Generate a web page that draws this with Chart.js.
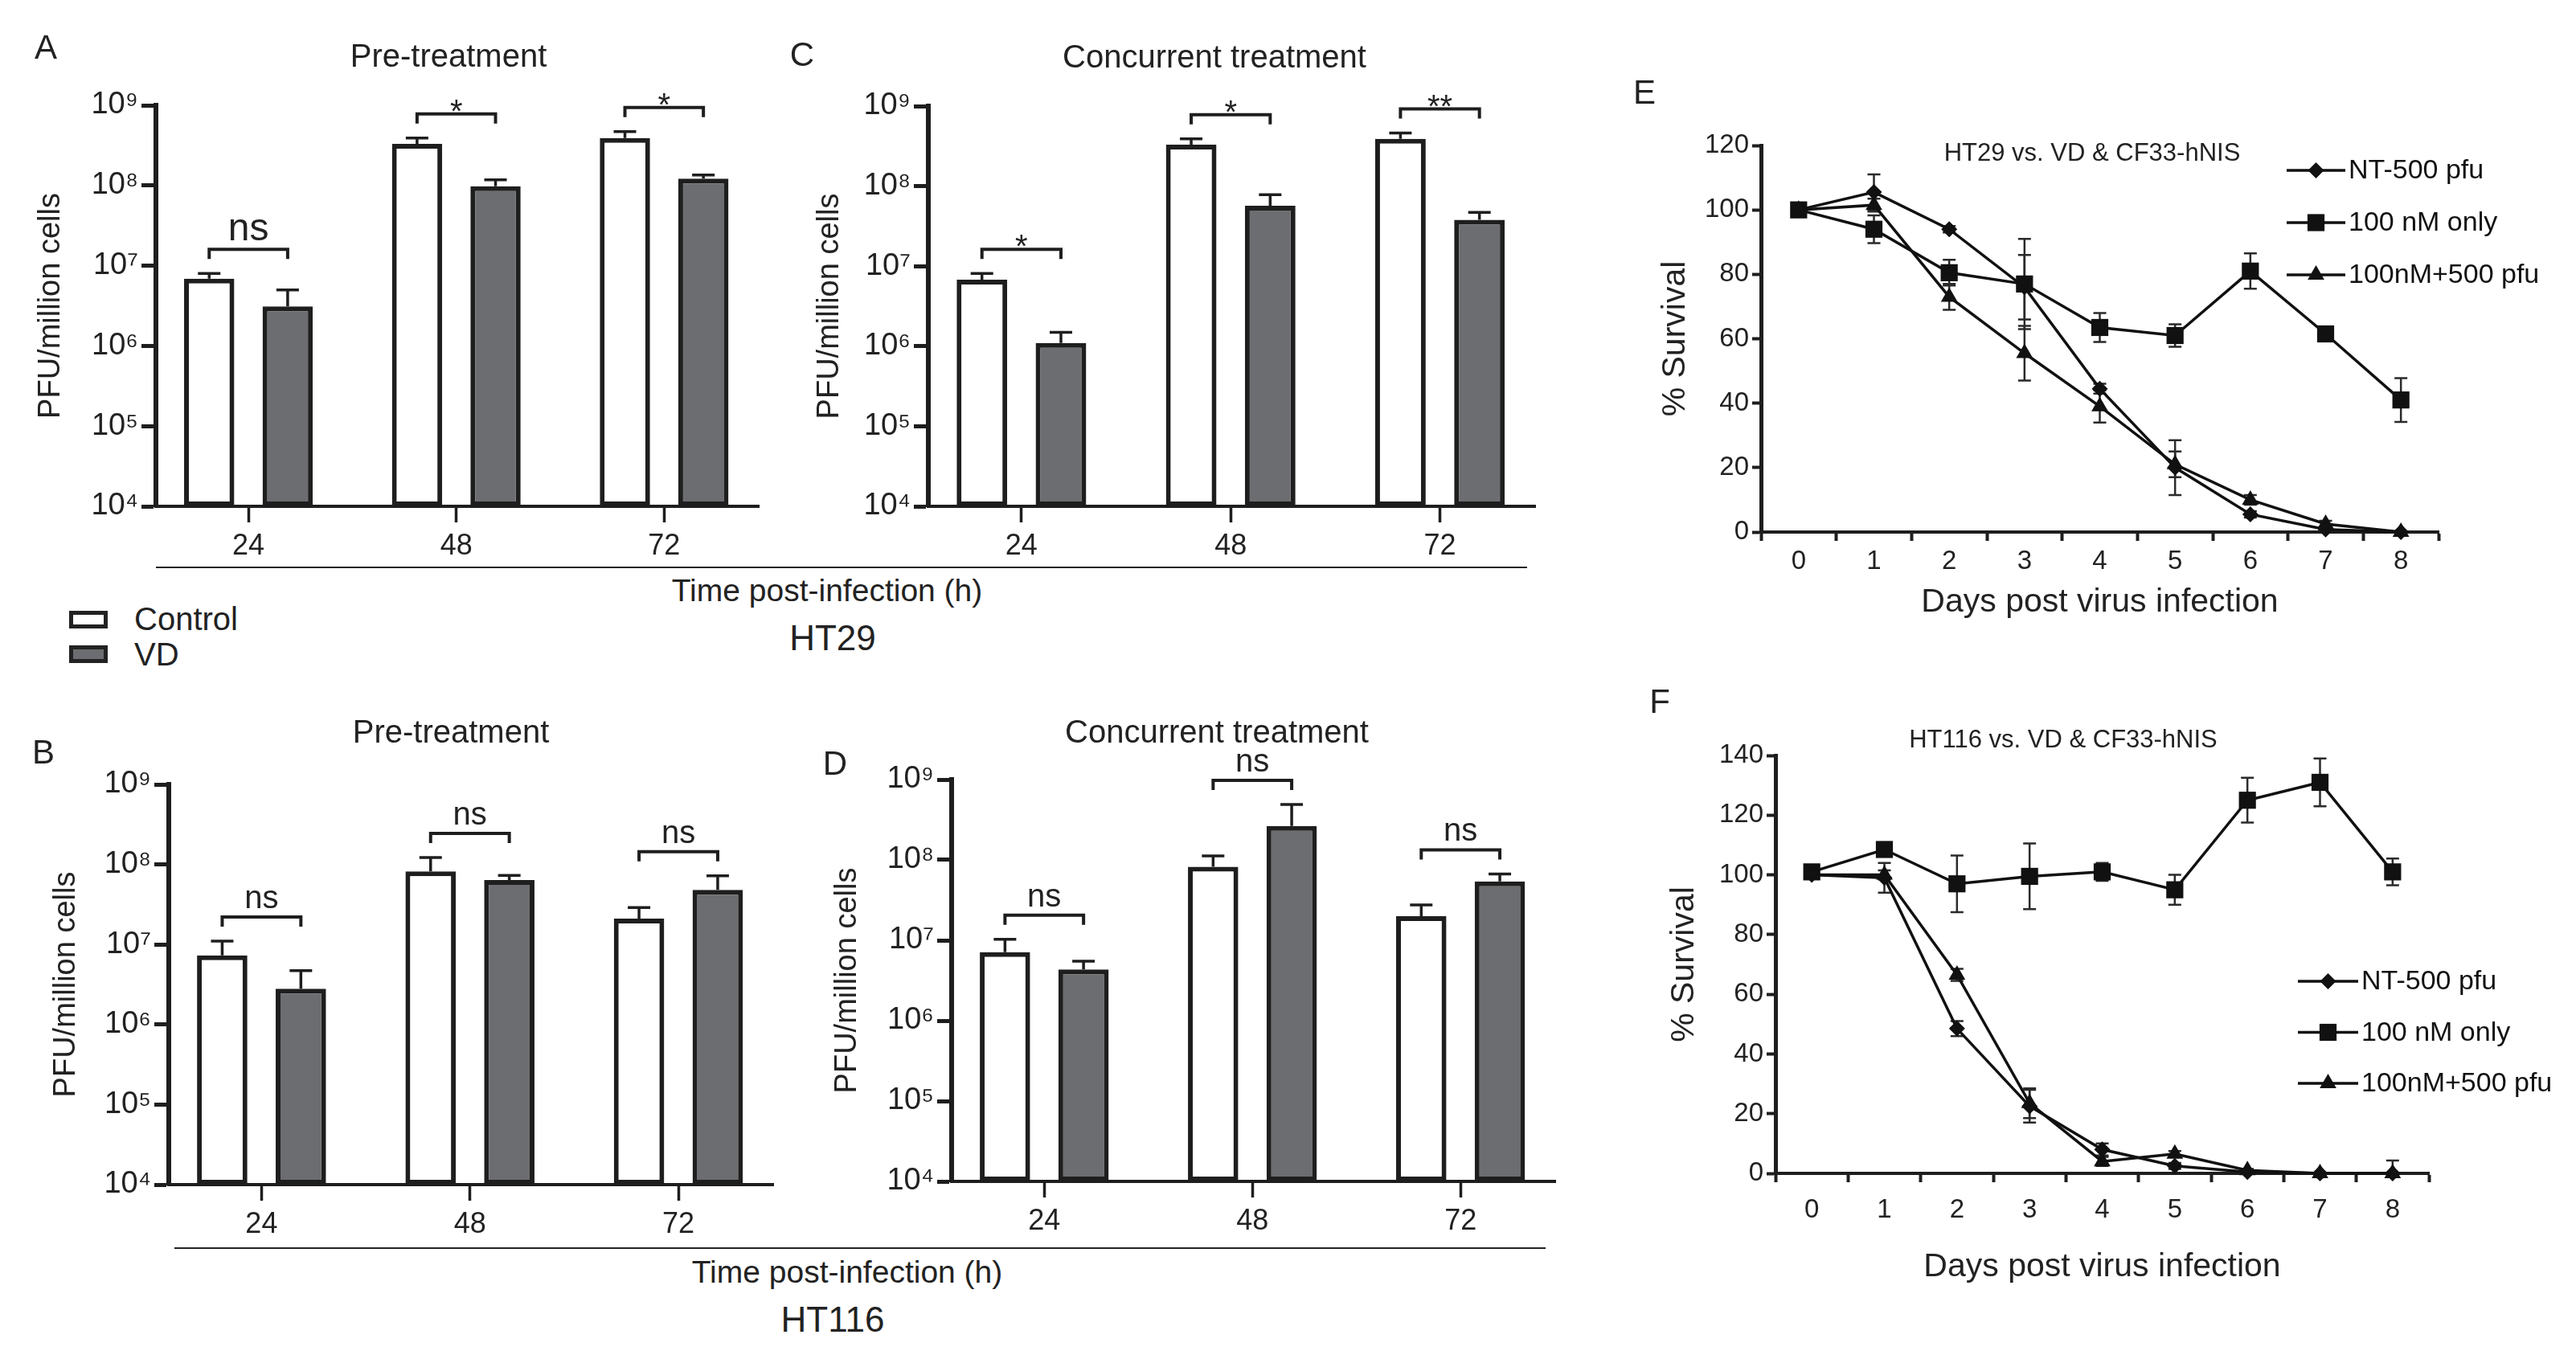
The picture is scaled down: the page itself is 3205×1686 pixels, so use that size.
<!DOCTYPE html>
<html>
<head>
<meta charset="utf-8">
<script src="https://cdn.jsdelivr.net/npm/chart.js@4.4.1/dist/chart.umd.min.js"></script>
<style>
  html, body { margin: 0; padding: 0; background: #fff; }
  #fig { position: relative; width: 3205px; height: 1686px; overflow: hidden;
         font-family: "Liberation Sans", Arial, sans-serif; color: #222; }
  .t { position: absolute; white-space: nowrap; transform: translate(-50%, -50%); line-height: 1; }
  .tl { position: absolute; white-space: nowrap; transform: translate(0, -50%); line-height: 1; }
  .rule { position: absolute; height: 2px; background: #222; }
  .box { position: absolute; width: 48px; height: 22px; border: 5px solid #222; box-sizing: border-box; }
  canvas { position: absolute; }
</style>
</head>
<body>
<div id="fig"></div>
<script>
// ---- data: virus titres (PFU / million cells) ----
const hours = ['24', '48', '72'];
const logTicks = [1e4, 1e5, 1e6, 1e7, 1e8, 1e9];

// A: HT29 pre-treatment
const ctrlA = [6.9e6, 3.3e8, 3.9e8];
const ctrlAErr = [1.1e6, 6e7, 8e7];
const vdA = [3.1e6, 9.8e7, 1.22e8];
const vdAErr = [1.9e6, 2e7, 1.3e7];
const sigA = ['ns', '*', '*'];

// C: HT29 concurrent treatment
const ctrlC = [6.8e6, 3.3e8, 3.9e8];
const ctrlCErr = [1.3e6, 6e7, 7e7];
const vdC = [1.1e6, 5.7e7, 3.8e7];
const vdCErr = [3.9e5, 2.1e7, 9e6];
const sigC = ['*', '*', '**'];

// B: HT116 pre-treatment
const ctrlB = [7.3e6, 8.2e7, 2.1e7];
const ctrlBErr = [3.7e6, 4e7, 8e6];
const vdB = [2.8e6, 6.4e7, 4.8e7];
const vdBErr = [1.9e6, 9e6, 2.4e7];
const sigB = ['ns', 'ns', 'ns'];

// D: HT116 concurrent treatment
const ctrlD = [7.1e6, 8.2e7, 2.0e7];
const ctrlDErr = [3.2e6, 3e7, 7.6e6];
const vdD = [4.35e6, 2.65e8, 5.4e7];
const vdDErr = [1.15e6, 2.25e8, 1.3e7];
const sigD = ['ns', 'ns', 'ns'];

// ---- data: survival (%) ----
const days = [0, 1, 2, 3, 4, 5, 6, 7, 8];
const seriesNames = ['NT-500 pfu', '100 nM only', '100nM+500 pfu'];
const yTicksE = [0, 20, 40, 60, 80, 100, 120];
const yTicksF = [0, 20, 40, 60, 80, 100, 120, 140];

const ntE = [100, 105.5, 94, 76, 44.5, 20, 5.5, 0.8, 0];
const ntEErr = [0, 5.5, 1, 10, 1.5, 8.5, 1, 0.5, 0];
const onlyE = [100, 94, 80.5, 77, 63.5, 61, 81, 61.5, 41];
const onlyEErr = [1, 4.3, 4, 14, 4.5, 3.5, 5.5, 1.5, 6.8];
const comboE = [100, 101.5, 73, 55.5, 39, 21, 10, 2.5, 0];
const comboEErr = [0, 2, 4, 8.5, 5, 4, 1.5, 1, 0];

const ntF = [100, 99, 48.5, 22.5, 8, 2.5, 0.5, 0, 0];
const ntFErr = [0, 5, 2.5, 5.5, 2, 1, 0.5, 0, 0];
const onlyF = [101, 108.5, 97, 99.5, 101, 95, 125, 131, 101];
const onlyFErr = [2, 2, 9.5, 11, 3, 5, 7.5, 8, 4.5];
const comboF = [100, 100, 66.5, 23.5, 4, 6.5, 1, 0, 0];
const comboFErr = [0, 1.5, 2, 5, 1.5, 1, 0.5, 0, 4.3];

// ---- setup ----
Chart.defaults.font.family = '"Liberation Sans", Arial, sans-serif';
Chart.defaults.color = '#222';
const INK = '#1e1e1e';
const fig = document.getElementById('fig');
const SUP = '⁰¹²³⁴⁵⁶⁷⁸⁹';

function makeCanvas(area, yW, xH, padTop, padRight) {
    const c = document.createElement('canvas');
    const w = yW + area.r - area.l + padRight;
    const h = padTop + area.b - area.t + xH;
    c.width = w;
    c.height = h;
    c.style.left = (area.l - yW) + 'px';
    c.style.top = (area.t - padTop) + 'px';
    c.style.width = w + 'px';
    c.style.height = h + 'px';
    fig.appendChild(c);
    return c;
}

function drawMarker(ctx, style, x, y, r) {
    ctx.beginPath();
    if (style === 'rectRot') {
        ctx.moveTo(x - r, y); ctx.lineTo(x, y - r); ctx.lineTo(x + r, y); ctx.lineTo(x, y + r);
    } else if (style === 'rect') {
        const s = r * Math.SQRT1_2;
        ctx.rect(x - s, y - s, 2 * s, 2 * s);
    } else {
        for (let k = 0; k < 3; k++) {
            const a = k * 2 * Math.PI / 3;
            ctx[k ? 'lineTo' : 'moveTo'](x + Math.sin(a) * r, y - Math.cos(a) * r);
        }
    }
    ctx.closePath();
    ctx.fill();
}

// error whiskers + significance brackets for the bar panels
const barExtras = {
    id: 'barExtras',
    afterDatasetsDraw(chart, args, opts) {
        const ctx = chart.ctx;
        const y = chart.scales.y;
        const sets = chart.data.datasets;
        ctx.save();
        ctx.strokeStyle = INK;
        ctx.lineWidth = 3.5;
        sets.forEach((ds, di) => {
            chart.getDatasetMeta(di).data.forEach((bar, i) => {
                const top = y.getPixelForValue(ds.data[i].y + ds.err[i]);
                ctx.beginPath();
                ctx.moveTo(bar.x, bar.y);
                ctx.lineTo(bar.x, top);
                ctx.moveTo(bar.x - 14, top);
                ctx.lineTo(bar.x + 14, top);
                ctx.stroke();
            });
        });
        const m0 = chart.getDatasetMeta(0), m1 = chart.getDatasetMeta(1);
        ctx.fillStyle = '#222';
        ctx.textAlign = 'center';
        opts.sig.forEach((s, i) => {
            const tops = sets.map(ds => y.getPixelForValue(ds.data[i].y + ds.err[i]));
            const by = Math.min(...tops) - 30;
            const x0 = m0.data[i].x, x1 = m1.data[i].x;
            ctx.lineWidth = 4;
            ctx.beginPath();
            ctx.moveTo(x0, by + 12);
            ctx.lineTo(x0, by);
            ctx.lineTo(x1, by);
            ctx.lineTo(x1, by + 12);
            ctx.stroke();
            ctx.textBaseline = 'alphabetic';
            if (s === 'ns') {
                ctx.font = opts.nsSize + 'px "Liberation Sans", Arial, sans-serif';
                ctx.fillText(s, (x0 + x1) / 2, by - 11);
            } else {
                ctx.font = '40px "Liberation Sans", Arial, sans-serif';
                ctx.fillText(s, (x0 + x1) / 2, by + 10);
            }
        });
        ctx.restore();
    }
};

function barChart(area, ctrl, ctrlErr, vd, vdErr, sig, yTitleX, nsSize) {
    const yW = 170, xH = 75, padTop = 90, padRight = 15;
    const lh = 38 * 1.2;
    const canvas = makeCanvas(area, yW, xH, padTop, padRight);
    const common = { borderColor: INK, borderWidth: 6, borderSkipped: false,
                     categoryPercentage: 0.755, barPercentage: 0.64 };
    new Chart(canvas, {
        type: 'bar',
        data: {
            datasets: [
                Object.assign({ label: 'Control', data: ctrl.map((v, i) => ({ x: i, y: v })),
                    err: ctrlErr, backgroundColor: '#ffffff' }, common),
                Object.assign({ label: 'VD', data: vd.map((v, i) => ({ x: i, y: v })),
                    err: vdErr, backgroundColor: '#6c6d70' }, common)
            ]
        },
        options: {
            responsive: false,
            animation: false,
            devicePixelRatio: 1,
            events: [],
            layout: { padding: { top: padTop, right: padRight, left: 0, bottom: 0 } },
            plugins: {
                legend: { display: false },
                tooltip: { enabled: false },
                barExtras: { sig: sig, nsSize: nsSize }
            },
            scales: {
                x: {
                    type: 'linear',
                    offset: false,
                    min: -0.445,
                    max: 2.455,
                    afterBuildTicks: s => { s.ticks = hours.map((h, i) => ({ value: i })); },
                    afterFit: s => { s.height = xH; },
                    grid: { drawOnChartArea: false, offset: false, tickLength: 20, tickWidth: 3.5, color: INK },
                    border: { display: true, width: 4, color: INK },
                    ticks: { callback: (v, i) => hours[i], font: { size: 36 }, padding: 8,
                             maxRotation: 0, autoSkip: false }
                },
                y: {
                    type: 'logarithmic',
                    min: 1e4,
                    max: 1e9,
                    afterBuildTicks: s => { s.ticks = logTicks.map(v => ({ value: v })); },
                    afterFit: s => { s.width = yW; },
                    grid: { drawOnChartArea: false, tickLength: 18, tickWidth: 5, color: INK },
                    border: { display: true, width: 6, color: INK },
                    ticks: { callback: v => '10' + SUP[Math.round(Math.log10(v))], font: { size: 38 }, padding: 4 },
                    title: { display: true, text: 'PFU/million cells', font: { size: 38 },
                             padding: { top: yTitleX - (area.l - yW) - lh / 2, bottom: 0 } }
                }
            }
        },
        plugins: [barExtras]
    });
}

// error bars under the survival curves
const lineErrors = {
    id: 'lineErrors',
    beforeDatasetsDraw(chart) {
        const { ctx, scales: { x, y } } = chart;
        ctx.save();
        ctx.strokeStyle = '#2a2a2a';
        ctx.lineWidth = 2.5;
        chart.data.datasets.forEach(ds => {
            ds.data.forEach((p, i) => {
                const e = ds.err[i];
                if (!e) return;
                const px = x.getPixelForValue(p.x);
                const lo = y.getPixelForValue(Math.max(p.y - e, 0));
                const hi = y.getPixelForValue(p.y + e);
                ctx.beginPath();
                ctx.moveTo(px, lo); ctx.lineTo(px, hi);
                ctx.moveTo(px - 8, hi); ctx.lineTo(px + 8, hi);
                if (p.y - e > 0) { ctx.moveTo(px - 8, lo); ctx.lineTo(px + 8, lo); }
                ctx.stroke();
            });
        });
        ctx.restore();
    }
};

const seriesLegend = {
    id: 'seriesLegend',
    afterDraw(chart, args, opts) {
        const { ctx, chartArea } = chart;
        const x0 = chartArea.right + opts.dx;
        ctx.save();
        ctx.fillStyle = '#111';
        ctx.strokeStyle = '#111';
        ctx.lineWidth = 3.5;
        ctx.font = '34px "Liberation Sans", Arial, sans-serif';
        ctx.textBaseline = 'middle';
        chart.data.datasets.forEach((ds, i) => {
            const yy = chartArea.top + opts.dy + i * opts.step;
            ctx.beginPath();
            ctx.moveTo(x0, yy); ctx.lineTo(x0 + opts.len, yy);
            ctx.stroke();
            drawMarker(ctx, ds.pointStyle, x0 + opts.len / 2, yy, ds.pointRadius);
            ctx.fillText(ds.label, x0 + opts.len + 4, yy + 1);
        });
        ctx.restore();
    }
};

function lineChart(area, nt, ntErr, only, onlyErr, combo, comboErr, yTicks, yTitleX, xH, xPad, legendPos) {
    const yW = 140, padTop = 60, padRight = 3200 - area.r;
    const lh = 41 * 1.2;
    const canvas = makeCanvas(area, yW, xH, padTop, padRight);
    const xTicks = [-0.5];
    days.forEach(d => xTicks.push(d, d + 0.5));
    const style = { borderColor: '#111', borderWidth: 3.5, pointBackgroundColor: '#111',
                    pointBorderColor: '#111', pointBorderWidth: 0, tension: 0, fill: false };
    const pts = arr => days.map((d, i) => ({ x: d, y: arr[i] }));
    new Chart(canvas, {
        type: 'line',
        data: {
            datasets: [
                Object.assign({ label: seriesNames[0], data: pts(nt), err: ntErr, pointStyle: 'rectRot', pointRadius: 10 }, style),
                Object.assign({ label: seriesNames[1], data: pts(only), err: onlyErr, pointStyle: 'rect', pointRadius: 15 }, style),
                Object.assign({ label: seriesNames[2], data: pts(combo), err: comboErr, pointStyle: 'triangle', pointRadius: 12 }, style)
            ]
        },
        options: {
            responsive: false,
            animation: false,
            devicePixelRatio: 1,
            events: [],
            clip: false,
            layout: { padding: { top: padTop, right: padRight, left: 0, bottom: 0 } },
            plugins: {
                legend: { display: false },
                tooltip: { enabled: false },
                seriesLegend: legendPos
            },
            scales: {
                x: {
                    type: 'linear',
                    offset: false,
                    min: -0.5,
                    max: 8.5,
                    afterBuildTicks: s => { s.ticks = xTicks.map(v => ({ value: v })); },
                    afterFit: s => { s.height = xH; },
                    grid: { drawOnChartArea: false, tickLength: 11, tickWidth: 4,
                            tickColor: c => Number.isInteger(c.tick.value) ? 'rgba(0,0,0,0)' : INK },
                    border: { display: true, width: 4, color: INK },
                    ticks: { callback: v => Number.isInteger(v) ? String(v) : '', font: { size: 33 },
                             padding: xPad, maxRotation: 0, autoSkip: false },
                    title: { display: true, text: 'Days post virus infection', font: { size: 41 },
                             padding: { top: 0, bottom: 0 } }
                },
                y: {
                    min: 0,
                    max: yTicks[yTicks.length - 1],
                    afterBuildTicks: s => { s.ticks = yTicks.map(v => ({ value: v })); },
                    afterFit: s => { s.width = yW; },
                    grid: { drawOnChartArea: false, tickLength: 11, tickWidth: 4, color: INK },
                    border: { display: true, width: 5, color: INK },
                    ticks: { font: { size: 33 }, padding: 4 },
                    title: { display: true, text: '% Survival', font: { size: 41 },
                             padding: { top: yTitleX - (area.l - yW) - lh / 2, bottom: 0 } }
                }
            }
        },
        plugins: [lineErrors, seriesLegend]
    });
}

barChart({ l: 194, r: 944, t: 131, b: 630 }, ctrlA, ctrlAErr, vdA, vdAErr, sigA, 64, 48);
barChart({ l: 1155, r: 1910, t: 132, b: 630 }, ctrlC, ctrlCErr, vdC, vdCErr, sigC, 1033, 40);
barChart({ l: 210, r: 962, t: 976, b: 1474 }, ctrlB, ctrlBErr, vdB, vdBErr, sigB, 83, 40);
barChart({ l: 1184, r: 1935, t: 970, b: 1470 }, ctrlD, ctrlDErr, vdD, vdDErr, sigD, 1055, 40);

lineChart({ l: 2191, r: 3034, t: 181, b: 662 }, ntE, ntEErr, onlyE, onlyEErr, comboE, comboEErr,
          yTicksE, 2085, 112, 6, { dx: -189, dy: 31, step: 65, len: 73 });
lineChart({ l: 2209, r: 3022, t: 940, b: 1460 }, ntF, ntFErr, onlyF, onlyFErr, comboF, comboFErr,
          yTicksF, 2096, 141, 15, { dx: -163, dy: 281, step: 63.5, len: 75 });

// ---- labels, rules and the shared legend ----
function text(str, x, y, size, cls) {
    const d = document.createElement('div');
    d.className = cls || 't';
    d.textContent = str;
    d.style.left = x + 'px';
    d.style.top = y + 'px';
    d.style.fontSize = size + 'px';
    fig.appendChild(d);
}
function rule(x0, x1, y) {
    const d = document.createElement('div');
    d.className = 'rule';
    d.style.left = x0 + 'px';
    d.style.top = (y - 1) + 'px';
    d.style.width = (x1 - x0) + 'px';
    fig.appendChild(d);
}
function box(x, y, fill) {
    const d = document.createElement('div');
    d.className = 'box';
    d.style.left = x + 'px';
    d.style.top = y + 'px';
    d.style.background = fill;
    fig.appendChild(d);
}

text('A', 57, 59, 42);
text('C', 998, 68, 42);
text('B', 54, 936, 42);
text('D', 1039, 950, 42);
text('E', 2046, 115, 42);
text('F', 2065, 873, 42);

text('Pre-treatment', 558, 69, 40);
text('Concurrent treatment', 1511, 70, 40);
text('Pre-treatment', 561, 910, 40);
text('Concurrent treatment', 1514, 910, 40);
text('HT29 vs. VD & CF33-hNIS', 2603, 189, 31);
text('HT116 vs. VD & CF33-hNIS', 2567, 919, 31);

rule(194, 1900, 706);
text('Time post-infection (h)', 1029, 734, 39);
text('HT29', 1036, 794, 44);
rule(217, 1923, 1553);
text('Time post-infection (h)', 1054, 1582, 39);
text('HT116', 1036, 1642, 44);

box(86, 760, '#ffffff');
box(86, 803, '#6c6d70');
text('Control', 167, 770, 40, 'tl');
text('VD', 167, 814, 40, 'tl');
</script>
</body>
</html>
